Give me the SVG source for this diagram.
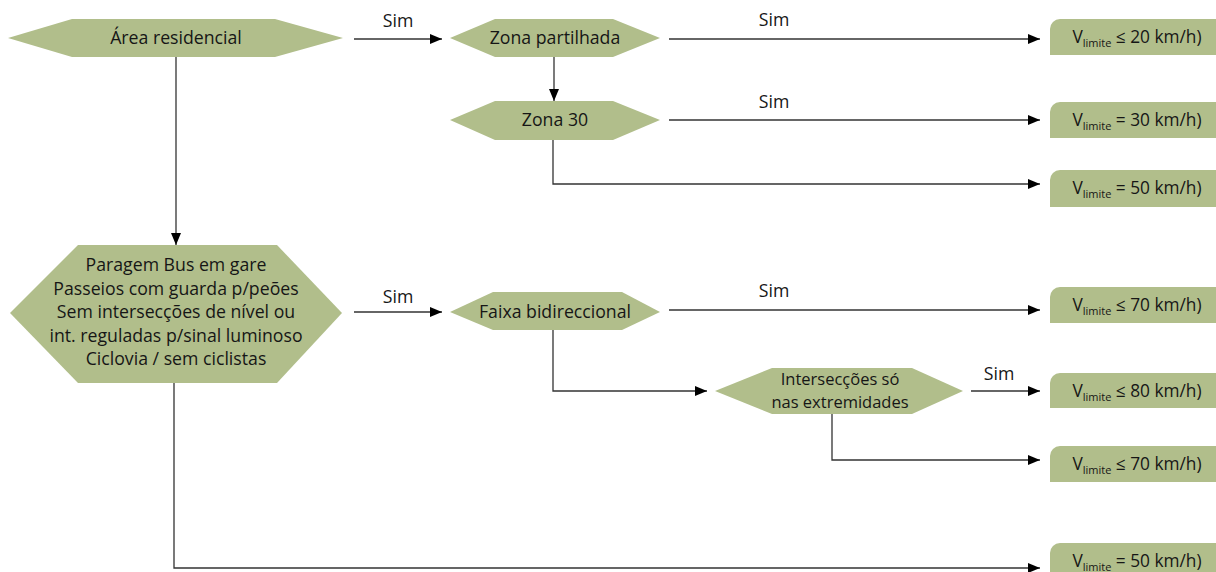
<svg xmlns="http://www.w3.org/2000/svg" width="1216" height="572" viewBox="0 0 1216 572">
  <style>
    .node { fill: #b1be8b; }
    .lbl { font-family: "Open Sans", Lato, "Liberation Sans", sans-serif; font-size: 17.7px; fill: #161616; text-anchor: middle; }
    .box { font-size: 17.3px; }
    .tight { font-size: 16.5px; }
    .sub { font-size: 11px; }
    .edge { fill: none; stroke: #333; stroke-width: 1.3; }
  </style>
  <defs>
    <marker id="arrow" viewBox="0 0 12 10" refX="12" refY="5" markerWidth="12" markerHeight="10" markerUnits="userSpaceOnUse" orient="auto">
      <path d="M0,0 L12,5 L0,10 Z" fill="#000"/>
    </marker>
  </defs>
  <rect width="1216" height="572" fill="#fff"/>

  <!-- connectors -->
  <g id="connectors">
    <path class="edge" d="M354,39 H442" marker-end="url(#arrow)"/>
    <path class="edge" d="M669,39 H1040" marker-end="url(#arrow)"/>
    <path class="edge" d="M554,57 V101" marker-end="url(#arrow)"/>
    <path class="edge" d="M669,120 H1040" marker-end="url(#arrow)"/>
    <path class="edge" d="M553,140 V184 H1040" marker-end="url(#arrow)"/>
    <path class="edge" d="M176,57 V245" marker-end="url(#arrow)"/>
    <path class="edge" d="M354,312 H442" marker-end="url(#arrow)"/>
    <path class="edge" d="M669,310 H1040" marker-end="url(#arrow)"/>
    <path class="edge" d="M553,330 V391 H707" marker-end="url(#arrow)"/>
    <path class="edge" d="M971,391 H1040" marker-end="url(#arrow)"/>
    <path class="edge" d="M832,414 V460 H1040" marker-end="url(#arrow)"/>
    <path class="edge" d="M174,383 V568 H1040" marker-end="url(#arrow)"/>
    <text class="lbl" x="398" y="27">Sim</text>
    <text class="lbl" x="774" y="26">Sim</text>
    <text class="lbl" x="774" y="108">Sim</text>
    <text class="lbl" x="398" y="303">Sim</text>
    <text class="lbl" x="774" y="297">Sim</text>
    <text class="lbl" x="999" y="380">Sim</text>
  </g>

  <!-- decision nodes -->
  <g id="area-residencial">
    <polygon class="node" points="8,38 72,19 275,19 343,38 275,57 72,57"/>
    <text class="lbl" x="176" y="44">Área residencial</text>
  </g>
  <g id="zona-partilhada">
    <polygon class="node" points="450,38 495,19 613,19 660,38 613,57 495,57"/>
    <text class="lbl" x="555" y="44">Zona partilhada</text>
  </g>
  <g id="zona-30">
    <polygon class="node" points="450,120 495,101 613,101 660,120 613,140 495,140"/>
    <text class="lbl" x="555" y="126">Zona 30</text>
  </g>
  <g id="paragem-bus">
    <polygon class="node" points="10,313 78,245 277,245 342,313 277,383 78,383"/>
    <text class="lbl" x="176" y="271">Paragem Bus em gare</text>
    <text class="lbl" x="176" y="294.5">Passeios com guarda p/peões</text>
    <text class="lbl" x="176" y="318">Sem intersecções de nível ou</text>
    <text class="lbl" x="176" y="341.5">int. reguladas p/sinal luminoso</text>
    <text class="lbl" x="176" y="365">Ciclovia / sem ciclistas</text>
  </g>
  <g id="faixa-bidireccional">
    <polygon class="node" points="450,312 493,292 622,292 660,312 622,330 493,330"/>
    <text class="lbl" x="555" y="318">Faixa bidireccional</text>
  </g>
  <g id="interseccoes">
    <polygon class="node" points="715,391 772,368 912,368 963,391 912,414 772,414"/>
    <text class="lbl tight" x="840" y="385">Intersecções só</text>
    <text class="lbl tight" x="840" y="407.5">nas extremidades</text>
  </g>

  <!-- result boxes -->
  <g id="v20">
    <path class="node" d="M1050,55 V29 A10,10 0 0 1 1060,19 H1216 V55 Z"/>
    <text class="lbl box" x="1137" y="43">V<tspan class="sub" dy="4">limite</tspan><tspan dy="-4"> ≤ 20 km/h)</tspan></text>
  </g>
  <g id="v30">
    <path class="node" d="M1050,138 V112 A10,10 0 0 1 1060,102 H1216 V138 Z"/>
    <text class="lbl box" x="1137" y="126">V<tspan class="sub" dy="4">limite</tspan><tspan dy="-4"> = 30 km/h)</tspan></text>
  </g>
  <g id="v50a">
    <path class="node" d="M1050,207 V180 A10,10 0 0 1 1060,170 H1216 V207 Z"/>
    <text class="lbl box" x="1137" y="194">V<tspan class="sub" dy="4">limite</tspan><tspan dy="-4"> = 50 km/h)</tspan></text>
  </g>
  <g id="v70a">
    <path class="node" d="M1050,323 V297 A10,10 0 0 1 1060,287 H1216 V323 Z"/>
    <text class="lbl box" x="1137" y="311">V<tspan class="sub" dy="4">limite</tspan><tspan dy="-4"> ≤ 70 km/h)</tspan></text>
  </g>
  <g id="v80">
    <path class="node" d="M1050,408 V383 A10,10 0 0 1 1060,373 H1216 V408 Z"/>
    <text class="lbl box" x="1137" y="397">V<tspan class="sub" dy="4">limite</tspan><tspan dy="-4"> ≤ 80 km/h)</tspan></text>
  </g>
  <g id="v70b">
    <path class="node" d="M1050,482 V456 A10,10 0 0 1 1060,446 H1216 V482 Z"/>
    <text class="lbl box" x="1137" y="470">V<tspan class="sub" dy="4">limite</tspan><tspan dy="-4"> ≤ 70 km/h)</tspan></text>
  </g>
  <g id="v50b">
    <path class="node" d="M1050,580 V553 A10,10 0 0 1 1060,543 H1216 V580 Z"/>
    <text class="lbl box" x="1137" y="567">V<tspan class="sub" dy="4">limite</tspan><tspan dy="-4"> = 50 km/h)</tspan></text>
  </g>
</svg>
